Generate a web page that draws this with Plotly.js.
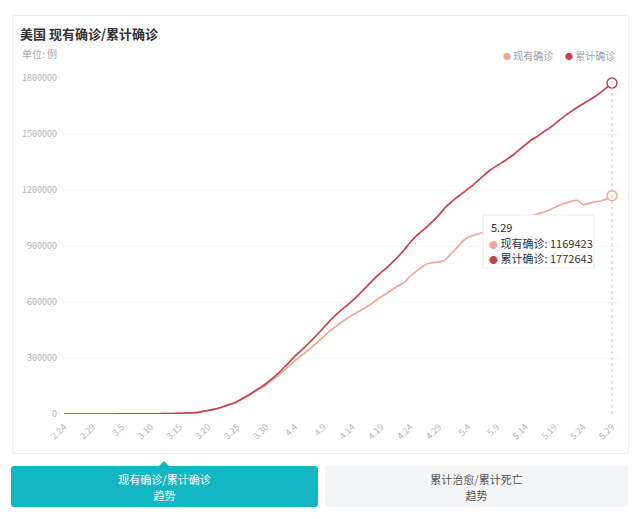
<!DOCTYPE html>
<html>
<head>
<meta charset="utf-8">
<script src="https://cdn.plot.ly/plotly-3.0.1.min.js"></script>
<style>
  html, body { margin: 0; padding: 0; background: #fff; }
  #wrap { position: relative; width: 641px; height: 519px; overflow: hidden; background: #fff;
          font-family: "Noto Sans CJK SC", "Noto Sans", sans-serif; }
  #card { position: absolute; left: 12px; top: 15px; width: 615px; height: 437px;
          border: 1px solid #efefef; border-radius: 2px; }
  #chart { position: absolute; left: 0; top: 0; width: 641px; height: 519px; }
  .btn { position: absolute; top: 466px; height: 41px; border-radius: 3px; text-align: center;
         font-size: 11px; line-height: 16px; box-sizing: border-box; padding-top: 5px; }
  #b1 { left: 11px; width: 307px; background: #13b7c4; color: #fff; }
  #b1:before { content: ""; position: absolute; left: 148px; top: -5px; width: 0; height: 0;
         border-left: 5px solid transparent; border-right: 5px solid transparent; border-bottom: 5px solid #13b7c4; }
  #b2 { left: 325px; width: 303px; background: #f4f5f7; color: #555; }
</style>
</head>
<body>
<div id="wrap">
  <div id="card"></div>
  <div id="chart"></div>
  <div class="btn" id="b1">现有确诊/累计确诊<br>趋势</div>
  <div class="btn" id="b2">累计治愈/累计死亡<br>趋势</div>
</div>
<script>
const dates = ["2.24","2.25","2.26","2.27","2.28","2.29",
"3.1","3.2","3.3","3.4","3.5","3.6","3.7","3.8","3.9","3.10","3.11","3.12","3.13","3.14","3.15","3.16","3.17","3.18","3.19","3.20","3.21","3.22","3.23","3.24","3.25","3.26","3.27","3.28","3.29","3.30","3.31",
"4.1","4.2","4.3","4.4","4.5","4.6","4.7","4.8","4.9","4.10","4.11","4.12","4.13","4.14","4.15","4.16","4.17","4.18","4.19","4.20","4.21","4.22","4.23","4.24","4.25","4.26","4.27","4.28","4.29","4.30",
"5.1","5.2","5.3","5.4","5.5","5.6","5.7","5.8","5.9","5.10","5.11","5.12","5.13","5.14","5.15","5.16","5.17","5.18","5.19","5.20","5.21","5.22","5.23","5.24","5.25","5.26","5.27","5.28","5.29"];

const currentConfirmed = [47,47,53,54,55,62,
66,88,105,133,196,253,389,506,570,917,1233,1604,2107,2657,3427,4545,6318,7659,13514,18896,25147,32760,43181,52772,64481,81962,98990,117633,135979,155329,179414,
201872,229277,257362,285000,309000,334000,360000,387000,415000,443000,466000,490000,510000,530000,548000,566000,584000,607000,628000,647000,668000,688000,705000,738000,763000,788000,805000,811000,815000,823000,
855000,887000,922000,946000,957000,967000,977000,987000,997000,1009000,1021000,1034000,1044000,1054000,1062000,1071000,1080000,1092000,1106000,1120000,1130000,1140000,1145000,1121000,1128000,1136000,1141000,1150000,1169423];

const totalConfirmed = [53,53,59,60,62,70,
76,101,122,153,221,278,417,537,605,959,1281,1663,2179,2726,3499,4632,6421,7786,13680,19101,25493,33276,43847,53740,65778,83836,101657,121465,140909,161831,188172,
213242,243622,275367,308650,336802,366317,397121,428654,462780,496535,526396,555313,580619,607670,636350,667801,699706,732197,759086,784326,814700,846100,880000,918500,952000,979200,1005300,1034400,1066500,1103461,
1132539,1158040,1180375,1204351,1229331,1257023,1283929,1309550,1329260,1347881,1369376,1390406,1417774,1442824,1467820,1486757,1508308,1528568,1551853,1577147,1600937,1622612,1643246,1662302,1681418,1699933,1721750,1747087,1772643];

const seriesNames = ["现有确诊", "累计确诊"];
const yTicks = [0, 300000, 600000, 900000, 1200000, 1500000, 1800000];
const xTickLabels = ["2.24","2.29","3.5","3.10","3.15","3.20","3.25","3.30","4.4","4.9","4.14","4.19","4.24","4.29","5.4","5.9","5.14","5.19","5.24","5.29"];

const lightColor = "#f0a795";
const darkColor = "#c5444a";
const FONT = '"Noto Sans CJK SC", "Noto Sans", sans-serif';

const last = dates.length - 1;
const lastDate = dates[last];

const traces = [
  { x: dates, y: currentConfirmed, name: seriesNames[0], type: "scatter", mode: "lines",
    line: { color: lightColor, width: 1.7, shape: "spline", smoothing: 0.3 }, hoverinfo: "skip" },
  { x: dates, y: totalConfirmed, name: seriesNames[1], type: "scatter", mode: "lines",
    line: { color: darkColor, width: 1.7, shape: "spline", smoothing: 0.3 }, hoverinfo: "skip" },
  { x: [lastDate], y: [currentConfirmed[last]], type: "scatter", mode: "markers", showlegend: false,
    marker: { size: 10, color: "#fff", line: { color: lightColor, width: 1.5 } }, hoverinfo: "skip", cliponaxis: false },
  { x: [lastDate], y: [totalConfirmed[last]], type: "scatter", mode: "markers", showlegend: false,
    marker: { size: 10, color: "#fff", line: { color: darkColor, width: 1.5 } }, hoverinfo: "skip", cliponaxis: false }
];

// plot area in pixels: x 62..620, y 78..414
const L = 62, R = 620, T = 78, B = 414;
const px = v => (v - L) / (R - L);
const py = v => 1 - (v - T) / (B - T);

const layout = {
  width: 641, height: 519,
  margin: { l: L, r: 641 - R, t: T, b: 519 - B },
  paper_bgcolor: "rgba(0,0,0,0)", plot_bgcolor: "rgba(0,0,0,0)",
  font: { family: FONT, color: "#999" },
  showlegend: false,
  title: { text: "<b>美国 现有确诊/累计确诊</b>", xref: "container", yref: "container",
           x: 20 / 641, xanchor: "left", y: 1 - 34 / 519, yanchor: "middle",
           font: { family: FONT, size: 13, color: "#333" } },
  xaxis: {
    type: "category",
    range: [-2 / 5.768, last + 8 / 5.768],
    tickmode: "array", tickvals: xTickLabels, ticktext: xTickLabels,
    tickangle: -45, tickfont: { size: 9, color: "#b3b3b3", family: FONT },
    showgrid: false, zeroline: false, showline: false, ticks: "", ticklabelstandoff: 5,
    fixedrange: true
  },
  yaxis: {
    range: [0, 1800000],
    tickmode: "array", tickvals: yTicks, ticktext: yTicks.map(String),
    tickfont: { size: 9, color: "#b3b3b3", family: FONT },
    gridcolor: "#f3f3f3", gridwidth: 1, zeroline: false, showline: false, ticks: "",
    ticklabelstandoff: 4, fixedrange: true
  },
  shapes: [
    { type: "line", xref: "x", yref: "paper", x0: last, x1: last, y0: 0, y1: 1,
      line: { color: "#c4c4c4", width: 1, dash: "dot" } },
    { type: "rect", xref: "paper", yref: "paper", x0: px(483), x1: px(594), y0: py(268), y1: py(215),
      fillcolor: "#fff", line: { color: "#e8e8e8", width: 1 }, layer: "above" }
  ],
  annotations: [
    { xref: "paper", yref: "paper", x: px(20), y: py(53), xanchor: "left", yanchor: "middle",
      text: "单位: 例", showarrow: false, font: { size: 10, color: "#aaa", family: FONT } },
    { xref: "paper", yref: "paper", x: px(555), y: py(55), xanchor: "right", yanchor: "middle",
      text: '<span style="color:' + lightColor + ';font-size:8px">●</span> ' + seriesNames[0],
      showarrow: false, font: { size: 10, color: "#a0a0a0", family: FONT } },
    { xref: "paper", yref: "paper", x: px(617), y: py(55), xanchor: "right", yanchor: "middle",
      text: '<span style="color:' + darkColor + ';font-size:8px">●</span> ' + seriesNames[1],
      showarrow: false, font: { size: 10, color: "#a0a0a0", family: FONT } },
    { xref: "paper", yref: "paper", x: px(489), y: py(227), xanchor: "left", yanchor: "middle",
      text: lastDate, showarrow: false, font: { size: 11, color: "#333", family: FONT } },
    { xref: "paper", yref: "paper", x: px(487), y: py(243), xanchor: "left", yanchor: "middle",
      text: '<span style="color:' + lightColor + ';font-size:9px">●</span> ' + seriesNames[0] + ": " + currentConfirmed[last],
      showarrow: false, font: { size: 11, color: "#333", family: FONT } },
    { xref: "paper", yref: "paper", x: px(487), y: py(258), xanchor: "left", yanchor: "middle",
      text: '<span style="color:' + darkColor + ';font-size:9px">●</span> ' + seriesNames[1] + ": " + totalConfirmed[last],
      showarrow: false, font: { size: 11, color: "#333", family: FONT } }
  ]
};

Plotly.newPlot("chart", traces, layout, { displayModeBar: false, staticPlot: true });
</script>
</body>
</html>
